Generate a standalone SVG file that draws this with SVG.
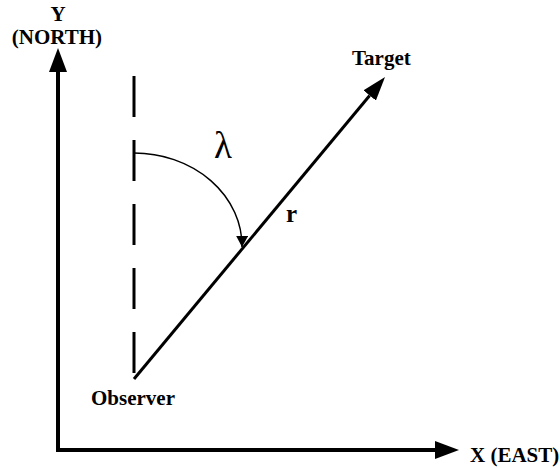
<svg xmlns="http://www.w3.org/2000/svg" width="560" height="468" viewBox="0 0 560 468">
<defs>
<style>
.lbl{font-family:"Liberation Serif","Times New Roman","DejaVu Serif",serif;font-weight:bold;font-size:21px;fill:#000}
.big{font-size:25px}
.greek{font-family:"Liberation Serif","Times New Roman","DejaVu Serif",serif;font-size:37px;fill:#000}
.axis{fill:none;stroke:#000;stroke-width:4}
.ray{fill:none;stroke:#000;stroke-width:3}
.ref{fill:none;stroke:#000;stroke-width:3;stroke-dasharray:41 23}
.arc{fill:none;stroke:#000;stroke-width:1.5}
</style>
<marker id="bigArrow" markerUnits="userSpaceOnUse" markerWidth="24" markerHeight="18" refX="0" refY="9" orient="auto-start-reverse" viewBox="0 0 24 18">
<path d="M0,0 L24,9 L0,18 z" fill="#000"/>
</marker>
<marker id="rayArrow" markerUnits="userSpaceOnUse" markerWidth="24" markerHeight="16" refX="0" refY="8" orient="auto" viewBox="0 0 24 16">
<path d="M0,0 L24,8 L0,16 z" fill="#000"/>
</marker>
<marker id="smallArrow" markerUnits="userSpaceOnUse" markerWidth="11" markerHeight="12" refX="11" refY="6" orient="auto" viewBox="0 0 11 12">
<path d="M0,0 L11,6 L0,12 z" fill="#000"/>
</marker>
</defs>
<g id="connectors">
<path id="axes" class="axis" d="M58,72 L58,450 L435,450" marker-start="url(#bigArrow)" marker-end="url(#bigArrow)"/>
<line id="north-ref" class="ref" x1="134" y1="76" x2="134" y2="379"/>
<line id="range" class="ray" x1="134" y1="379" x2="369.7" y2="95.5" marker-end="url(#rayArrow)"/>
<path id="bearing-arc" class="arc" d="M134,153 A108,93 0 0 1 242,247" marker-end="url(#smallArrow)"/>
</g>
<g id="y-label"><text class="lbl" x="58" y="21" text-anchor="middle">Y</text><text class="lbl" x="57" y="44" text-anchor="middle">(NORTH)</text></g>
<g id="x-label"><text class="lbl" x="470" y="462">X (EAST)</text></g>
<g id="target"><text class="lbl" x="352" y="65">Target</text></g>
<g id="observer"><text class="lbl" x="91" y="405">Observer</text></g>
<g id="r-label"><text class="lbl big" x="286" y="222">r</text></g>
<g id="lambda"><text class="greek" x="214" y="158">λ</text></g>
</svg>
